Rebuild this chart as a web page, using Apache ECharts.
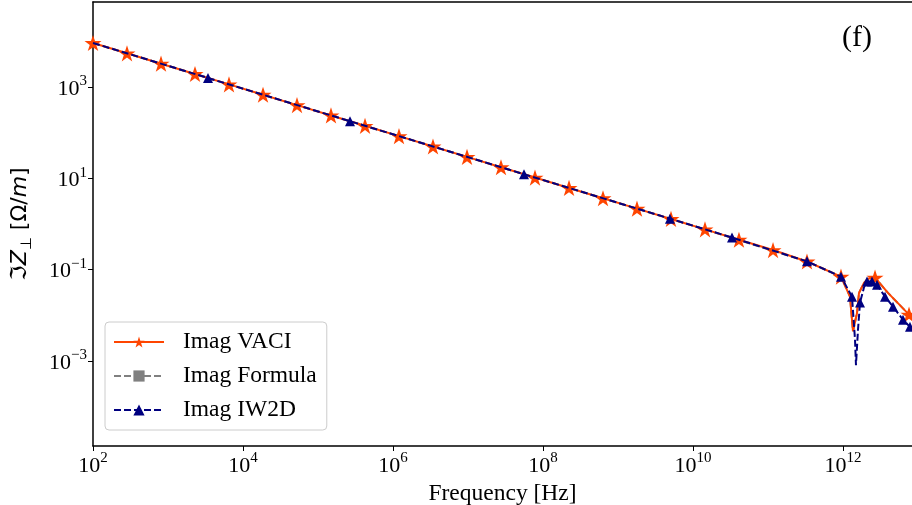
<!DOCTYPE html>
<html>
<head>
<meta charset="utf-8">
<script src="https://cdn.jsdelivr.net/npm/echarts@6/dist/echarts.min.js"></script>
<style>
  html, body { margin: 0; padding: 0; background: #fff; }
  #chart { width: 912px; height: 505px; }
</style>
</head>
<body>
<div id="chart"></div>
<script>
// Imaginary transverse impedance vs frequency (log-log).

// VACI: samples drawn with a star marker
const vaciFreq = [100, 284, 807, 2291, 6506, 1.849e4, 5.248e4, 1.490e5, 4.236e5, 1.202e6,
  3.414e6, 9.70e6, 2.754e7, 7.82e7, 2.223e8, 6.31e8, 1.791e9, 5.09e9, 1.445e10, 4.10e10,
  1.167e11, 3.31e11, 9.40e11, 2.673e12, 7.59e12];
const vaciImag = [9180, 5450, 3235, 1920, 1138, 676, 401, 238, 141, 83.8,
  49.7, 29.5, 17.5, 10.4, 6.16, 3.66, 2.17, 1.29, 0.764, 0.453,
  0.269, 0.151, 0.0703, 0.0668, 0.0104];
// VACI: extra samples around the resonance (line only)
const vaciDipFreq = [1.239e12, 1.358e12, 1.538e12, 1.633e12, 1.905e12, 2.153e12, 3.98e12, 1e13];
const vaciDipImag = [0.0257, 0.00450, 0.01125, 0.0308, 0.0513, 0.063, 0.031, 0.0063];

// Formula
const formulaFreq = [100, 1e4, 1e6, 1e8, 1e10, 3.31e11, 9.40e11, 1.239e12, 1.358e12, 1.538e12,
  1.633e12, 1.905e12, 2.153e12, 2.673e12, 3.98e12, 7.59e12, 1e13];
const formulaImag = [9180, 918, 91.8, 9.18, 0.918, 0.151, 0.0703, 0.0257, 0.00450, 0.01125,
  0.0308, 0.0513, 0.063, 0.0668, 0.031, 0.0104, 0.0063];

// IW2D: samples drawn with a triangle marker
const iw2dFreq = [3412, 2.673e5, 5.58e7, 4.93e9, 3.31e10, 3.31e11, 9.40e11, 1.318e12, 1.687e12,
  2.089e12, 2.438e12, 2.838e12, 3.63e12, 4.645e12, 6.31e12, 7.82e12];
const iw2dImag = [1573, 178, 12.3, 1.31, 0.505, 0.152, 0.0703, 0.0257, 0.019,
  0.055, 0.055, 0.047, 0.0257, 0.0155, 0.008, 0.0056];
// IW2D: extra samples (line only)
const iw2dLineFreq = [100, 1.445e12, 1.489e12, 1.585e12, 1.905e12, 1e13];
const iw2dLineImag = [9180, 0.0030, 8.1e-4, 0.0049, 0.041, 0.0038];

// Tick positions (powers of ten)
const xTickExp = [2, 4, 6, 8, 10, 12];
const yTickExp = [-3, -1, 1, 3];

const STAR = 'path://M100,0 L122.45,69.1 L195.11,69.1 L136.33,111.8 L158.78,180.9 L100,138.2 L41.22,180.9 L63.67,111.8 L4.89,69.1 L77.55,69.1 Z';

function buildPoints(fM, vM, fU, vU) {
  const pts = [];
  fM.forEach((f, i) => pts.push({ f: f, v: vM[i], mark: true }));
  (fU || []).forEach((f, i) => pts.push({ f: f, v: vU[i], mark: false }));
  pts.sort((a, b) => a.f - b.f);
  return pts.map(p => p.mark
    ? { value: [Math.log10(p.f), Math.log10(p.v)] }
    : { value: [Math.log10(p.f), Math.log10(p.v)], symbol: 'none' });
}

function powLabel(v) {
  const e = String(Math.round(v)).replace('-', '\u2212');
  return '{b|10}{s|' + e + '}';
}

const serif = 'Liberation Serif';
const tickRich = {
  b: { fontSize: 22, fontFamily: serif, color: '#000', lineHeight: 26, verticalAlign: 'bottom' },
  s: { fontSize: 15, fontFamily: serif, color: '#000', lineHeight: 15, verticalAlign: 'top' }
};

const X_MIN = 2, X_MAX = 12.92, Y_MIN = -4.86, Y_MAX = 4.86;

const chart = echarts.init(document.getElementById('chart'), null, { renderer: 'canvas' });
chart.setOption({
  backgroundColor: '#fff',
  animation: false,
  grid: { left: 93, right: 0, top: 2, bottom: 59, containLabel: false, outerBoundsMode: 'none' },
  xAxis: [{
    type: 'value', min: X_MIN, max: X_MAX, position: 'bottom',
    name: 'Frequency [Hz]', nameLocation: 'middle', nameGap: 32,
    nameTextStyle: { fontFamily: serif, fontSize: 23.5, color: '#000' },
    axisLine: { show: true, onZero: false, lineStyle: { color: '#000', width: 1.5 } },
    axisTick: { show: true, inside: false, length: 5, customValues: xTickExp, lineStyle: { color: '#000', width: 1 } },
    axisLabel: { show: true, customValues: xTickExp, margin: 5, formatter: powLabel, rich: tickRich },
    splitLine: { show: false }
  }, {
    type: 'value', min: X_MIN, max: X_MAX, position: 'top',
    axisLine: { show: true, onZero: false, lineStyle: { color: '#000', width: 1.5 } },
    axisTick: { show: false }, axisLabel: { show: false }, splitLine: { show: false }
  }],
  yAxis: {
    type: 'value', min: Y_MIN, max: Y_MAX,
    name: '{n|\u2111}{i|Z}{sub|\u22A5}{n| [\u03A9/}{i|m}{n|]}',
    nameLocation: 'middle', nameGap: 58, nameRotate: 90,
    nameTextStyle: {
      color: '#000',
      rich: {
        n: { fontFamily: 'DejaVu Sans', fontSize: 22, color: '#000' },
        i: { fontFamily: 'DejaVu Sans', fontStyle: 'italic', fontSize: 22, color: '#000' },
        sub: { fontFamily: 'DejaVu Sans', fontSize: 15, color: '#000', verticalAlign: 'bottom', lineHeight: 30 }
      }
    },
    axisLine: { show: true, onZero: false, lineStyle: { color: '#000', width: 1.5 } },
    axisTick: { show: true, inside: false, length: 5, customValues: yTickExp, lineStyle: { color: '#000', width: 1 } },
    axisLabel: { show: true, customValues: yTickExp, margin: 6, formatter: powLabel, rich: tickRich },
    splitLine: { show: false }
  },
  legend: {
    orient: 'vertical', left: 105, top: 322,
    padding: [8, 10, 8, 8], itemGap: 10, itemWidth: 50, itemHeight: 14,
    backgroundColor: 'rgba(255,255,255,0.8)', borderColor: '#cccccc', borderWidth: 1, borderRadius: 4,
    textStyle: { fontFamily: serif, fontSize: 23.5, color: '#000', padding: [0, 0, 0, 14] },
    data: ['Imag VACI', 'Imag Formula', 'Imag IW2D']
  },
  graphic: [{
    type: 'text', x: 857, y: 38,
    style: { text: '(f)', fontFamily: serif, fontSize: 30, fill: '#000', align: 'center', verticalAlign: 'middle' }
  }],
  series: [{
    name: 'Imag VACI', type: 'line',
    data: buildPoints(vaciFreq, vaciImag, vaciDipFreq, vaciDipImag),
    symbol: STAR, symbolSize: 17, symbolKeepAspect: true, showSymbol: true,
    itemStyle: { color: '#FF4500' },
    lineStyle: { color: '#FF4500', width: 2 },
    z: 2
  }, {
    name: 'Imag Formula', type: 'line',
    data: buildPoints(formulaFreq, formulaImag).map(d => ({ value: d.value, symbol: 'none' })),
    symbol: 'rect', symbolSize: 8,
    itemStyle: { color: '#808080' },
    lineStyle: { color: '#808080', width: 2, type: [7, 3] },
    z: 1
  }, {
    name: 'Imag IW2D', type: 'line',
    data: buildPoints(iw2dFreq, iw2dImag, iw2dLineFreq, iw2dLineImag),
    symbol: 'triangle', symbolSize: 10, showSymbol: true,
    itemStyle: { color: '#000080' },
    lineStyle: { color: '#000080', width: 2, type: [7, 3] },
    z: 3
  }]
});
</script>
</body>
</html>
